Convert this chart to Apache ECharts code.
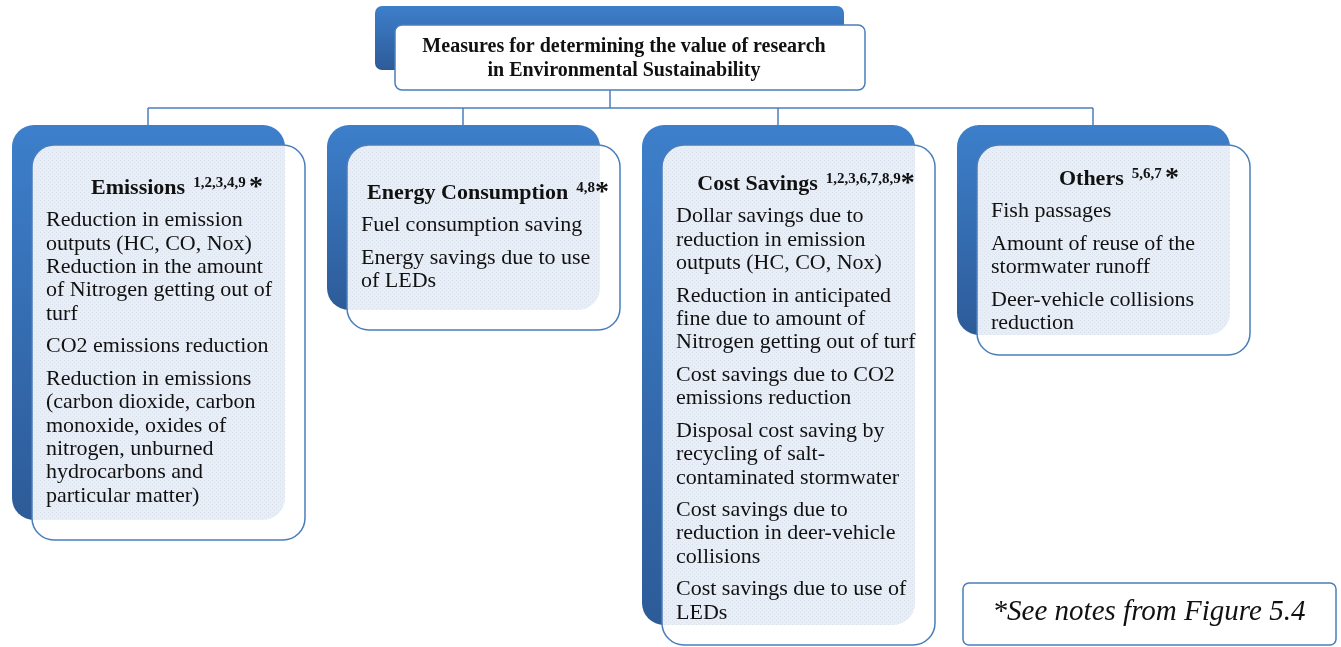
<!DOCTYPE html>
<html lang="en">
<head>
<meta charset="UTF-8">
<title>Measures for determining the value of research</title>
<script src="https://cdn.jsdelivr.net/npm/echarts@6/dist/echarts.min.js"></script>
<style>html,body{margin:0;padding:0;background:#fff}</style>
</head>
<body>
<div id="main" style="width:1341px;height:647px"></div>
<script>
// diagram content
var rootTitle = ['Measures for determining the value of research', 'in Environmental Sustainability'];
var categories = ['Emissions', 'Energy Consumption', 'Cost Savings', 'Others'];
var notes = ['1,2,3,4,9', '4,8', '1,2,3,6,7,8,9', '5,6,7'];
var starGap = [' ', '', '', ' '];
var emissionsItems = [
    ['Reduction in emission', 'outputs (HC, CO, Nox)', 'Reduction in the amount', 'of Nitrogen getting out of', 'turf'],
    ['CO2 emissions reduction'],
    ['Reduction in emissions', '(carbon dioxide, carbon', 'monoxide, oxides of', 'nitrogen, unburned', 'hydrocarbons and', 'particular matter)']
];
var energyItems = [
    ['Fuel consumption saving'],
    ['Energy savings due to use', 'of LEDs']
];
var costItems = [
    ['Dollar savings due to', 'reduction in emission', 'outputs (HC, CO, Nox)'],
    ['Reduction in anticipated', 'fine due to amount of', 'Nitrogen getting out of turf'],
    ['Cost savings due to CO2', 'emissions reduction'],
    ['Disposal cost saving by', 'recycling of salt-', 'contaminated stormwater'],
    ['Cost savings due to', 'reduction in deer-vehicle', 'collisions'],
    ['Cost savings due to use of', 'LEDs']
];
var otherItems = [
    ['Fish passages'],
    ['Amount of reuse of the', 'stormwater runoff'],
    ['Deer-vehicle collisions', 'reduction']
];
var footnote = '*See notes from Figure 5.4';

// layout
var colX = [12, 327, 642, 957];
var colH = [395, 185, 500, 210];
var titleCx = [177, 488, 806, 1119];
var titleCy = [188, 193, 184, 179];
var boxW = 273, boxTop = 125, shift = 20, R = 22;
var lineStep = 23.4, paraStep = 32.5;
var blue = '#4a7ebb';
var serif = '"Liberation Serif", "Times New Roman", serif';

var chart = echarts.init(document.getElementById('main'));

// light hatched fill like the original
var pat = document.createElement('canvas');
pat.width = 4; pat.height = 4;
var pc = pat.getContext('2d');
pc.fillStyle = '#e9eef6'; pc.fillRect(0, 0, 4, 4);
pc.fillStyle = '#d9e1ed'; pc.fillRect(0, 0, 1, 1); pc.fillRect(2, 2, 1, 1);

var backFill = new echarts.graphic.LinearGradient(0, 0, 0, 1, [
    { offset: 0, color: '#3d7fcb' },
    { offset: 1, color: '#2d5b98' }
]);

var els = [];

// root box
els.push({ type: 'rect', shape: { x: 375, y: 6, width: 469, height: 64, r: 7 }, style: { fill: backFill } });
els.push({ type: 'rect', shape: { x: 395, y: 25, width: 470, height: 65, r: 7 }, style: { fill: '#fff', stroke: blue, lineWidth: 1.5 } });
rootTitle.forEach(function (t, i) {
    els.push({ type: 'text', style: { text: t, x: 624, y: 47 + i * 24, align: 'center', verticalAlign: 'middle',
        font: 'bold 20px ' + serif, fill: '#111' } });
});

// connectors
els.push({ type: 'line', shape: { x1: 610, y1: 90, x2: 610, y2: 108 }, style: { stroke: blue, lineWidth: 1.5 } });
els.push({ type: 'line', shape: { x1: colX[0] + 136, y1: 108, x2: colX[3] + 136, y2: 108 }, style: { stroke: blue, lineWidth: 1.5 } });

var allItems = [emissionsItems, energyItems, costItems, otherItems];

categories.forEach(function (name, c) {
    var x = colX[c], h = colH[c];
    els.push({ type: 'line', shape: { x1: x + 136, y1: 108, x2: x + 136, y2: boxTop }, style: { stroke: blue, lineWidth: 1.5 } });
    els.push({ type: 'rect', shape: { x: x, y: boxTop, width: boxW, height: h, r: R }, style: { fill: backFill } });
    els.push({ type: 'rect', shape: { x: x + shift, y: boxTop + shift, width: boxW, height: h, r: R }, style: { fill: '#fff' } });
    els.push({ type: 'rect', shape: { x: x + shift, y: boxTop + shift, width: boxW - shift, height: h - shift, r: [R, 0, R, 0] },
        style: { fill: { image: pat, repeat: 'repeat' } } });
    els.push({ type: 'rect', shape: { x: x + shift, y: boxTop + shift, width: boxW, height: h, r: R },
        style: { fill: 'none', stroke: blue, lineWidth: 1.5 } });

    els.push({ type: 'text', style: {
        text: '{t|' + name + '}{s|' + notes[c] + '}' + starGap[c] + '{a|*}',
        x: titleCx[c], y: titleCy[c], align: 'center', verticalAlign: 'middle',
        rich: {
            t: { font: 'bold 22px ' + serif, fill: '#111', lineHeight: 25 },
            s: { font: 'bold 15px ' + serif, fill: '#111', lineHeight: 19, verticalAlign: 'top', padding: [0, 0, 0, 8] },
            a: { font: 'bold 28px ' + serif, fill: '#111', lineHeight: 25 }
        }
    } });

    var y = titleCy[c] + paraStep;
    allItems[c].forEach(function (para, p) {
        if (p > 0) y += paraStep - lineStep;
        para.forEach(function (line) {
            els.push({ type: 'text', style: { text: line, x: x + shift + 14, y: y, verticalAlign: 'middle',
                font: '22px ' + serif, fill: '#111' } });
            y += lineStep;
        });
    });
});

// note box
els.push({ type: 'rect', shape: { x: 963, y: 583, width: 373, height: 62, r: 6 }, style: { fill: '#fff', stroke: blue, lineWidth: 1.5 } });
els.push({ type: 'text', style: { text: footnote, x: 1149, y: 612, align: 'center', verticalAlign: 'middle',
    font: 'italic 29px ' + serif, fill: '#111' } });

chart.setOption({ animation: false, graphic: { elements: els } });
</script>
</body>
</html>
